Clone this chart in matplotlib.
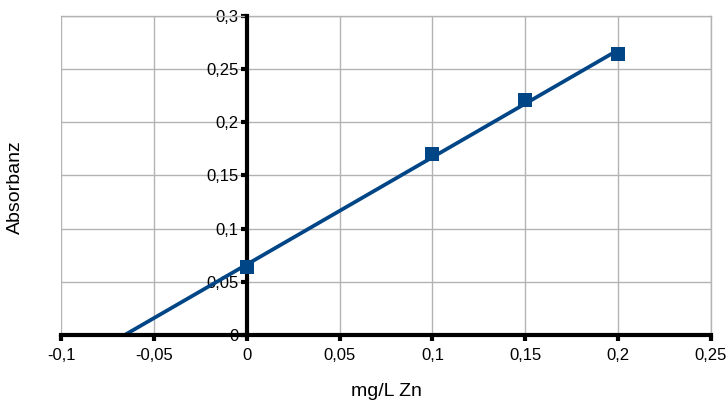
import matplotlib
matplotlib.use("Agg")
import matplotlib.pyplot as plt
import numpy as np
from matplotlib.ticker import FuncFormatter

# calibration data: zinc concentration vs absorbance
conc = [0.0, 0.1, 0.15, 0.2]
absorb = [0.064, 0.170, 0.221, 0.264]

x_ticks = [-0.1, -0.05, 0, 0.05, 0.1, 0.15, 0.2, 0.25]
y_ticks = [0, 0.05, 0.1, 0.15, 0.2, 0.25, 0.3]

blue = "#004586"

plt.rcParams["font.family"] = ["Liberation Sans", "DejaVu Sans"]

fig = plt.figure(figsize=(7.28, 4.03), dpi=100)
ax = fig.add_axes([61 / 728, 68 / 403, 650 / 728, 319 / 403])

# linear trend line, extended back to the x-intercept
slope, intercept = np.polyfit(conc, absorb, 1)
x0 = -intercept / slope
x_fit = np.array([x0, max(conc)])
ax.plot(x_fit, slope * x_fit + intercept, color=blue, linewidth=2.7,
        solid_capstyle="butt", zorder=3)

ax.plot(conc, absorb, linestyle="none", marker="s", markersize=9.5,
        color=blue, markeredgewidth=0, zorder=5, clip_on=False)

ax.set_xlim(-0.1, 0.25)
ax.set_ylim(0, 0.3)
ax.set_xticks(x_ticks)
ax.set_yticks(y_ticks)

fmt = FuncFormatter(lambda v, p: f"{v:g}".replace(".", ",") if abs(v) > 1e-12 else "0")
ax.xaxis.set_major_formatter(fmt)
ax.yaxis.set_major_formatter(fmt)

ax.grid(True, color="#b3b3b3", linewidth=1)
ax.set_axisbelow(True)

ax.spines["left"].set_position(("data", 0))
ax.spines["bottom"].set_position(("data", 0))
for side in ["left", "bottom"]:
    ax.spines[side].set_linewidth(3)
    ax.spines[side].set_color("black")
    ax.spines[side].set_zorder(4)
for side in ["top", "right"]:
    ax.spines[side].set_linewidth(1)
    ax.spines[side].set_color("#b3b3b3")

ax.tick_params(axis="both", direction="out", length=4, width=3,
               color="black", labelsize=12, labelcolor="black")
ax.tick_params(axis="x", pad=5)
ax.tick_params(axis="y", pad=2)

fig.text(386 / 728, 1 - 392 / 403, "mg/L Zn", ha="center", va="center",
         fontsize=14)
fig.text(15 / 728, 1 - 187 / 403, "Absorbanz", ha="center", va="center",
         rotation=90, fontsize=14)

fig.savefig("out.png", dpi=100)
plt.close(fig)
